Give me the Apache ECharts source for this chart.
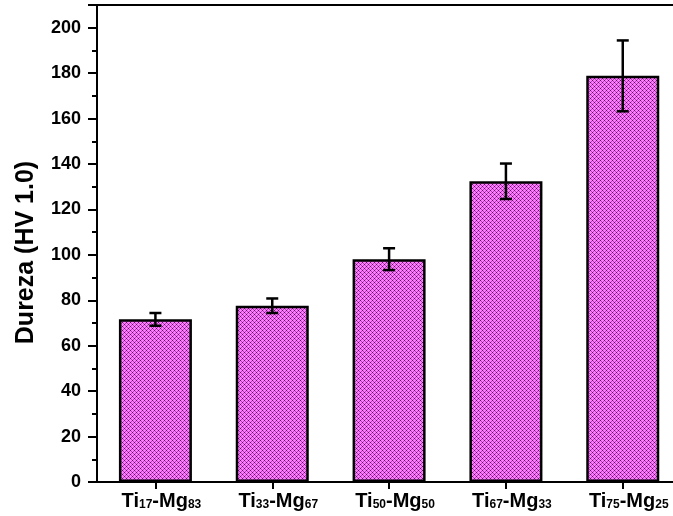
<!DOCTYPE html>
<html>
<head>
<meta charset="utf-8">
<script src="https://cdn.jsdelivr.net/npm/echarts@6/dist/echarts.min.js"></script>
<style>
  html, body { margin: 0; padding: 0; background: #fff; overflow: hidden; }
  #chart { width: 673px; height: 516px; }
</style>
</head>
<body>
<div id="chart"></div>
<script>
// Alloy compositions (Ti_x-Mg_y) and measured hardness
const categories = ['Ti17-Mg83', 'Ti33-Mg67', 'Ti50-Mg50', 'Ti67-Mg33', 'Ti75-Mg25'];
const hardness = [71.6, 77.6, 98.1, 132.4, 178.8];
const hardnessErr = [2.8, 3.2, 4.8, 7.8, 15.6];
const yTicks = [0, 20, 40, 60, 80, 100, 120, 140, 160, 180, 200];

const catIndex = categories.map(function (_, i) { return i; });

// Cross-hatched magenta fill: 4x4 tile with 1px diagonals both ways
function hatchPattern() {
  const s = 4;
  const c = document.createElement('canvas');
  c.width = s; c.height = s;
  const g = c.getContext('2d');
  g.fillStyle = '#ff7cff';
  g.fillRect(0, 0, s, s);
  for (let x = 0; x < s; x++) {
    for (let y = 0; y < s; y++) {
      const a = (x - y + s) % s === 0;
      const b = (x + y) % s === 0;
      if (a && b) { g.fillStyle = '#5a165c'; g.fillRect(x, y, 1, 1); }
      else if (a || b) { g.fillStyle = '#b43ebc'; g.fillRect(x, y, 1, 1); }
    }
  }
  return c;
}

const chart = echarts.init(document.getElementById('chart'), null, { renderer: 'canvas' });
const font = 'Liberation Sans, Arial, sans-serif';

chart.setOption({
  animation: false,
  backgroundColor: '#fff',
  grid: { left: 97, top: 5, right: 0, height: 477, outerBoundsMode: 'none', containLabel: false },
  xAxis: [
    {
      type: 'value',
      min: -0.5, max: 4.43,
      splitLine: { show: false },
      axisLine: { onZero: false, lineStyle: { color: '#000', width: 2 } },
      axisTick: { show: true, customValues: catIndex, length: 7, lineStyle: { color: '#000', width: 2 } },
      axisLabel: {
        customValues: catIndex,
        margin: 9,
        formatter: function (v) {
          const m = categories[Math.round(v)].match(/Ti(\d+)-Mg(\d+)/);
          return '{b|Ti}{s|' + m[1] + '}{b|-Mg}{s|' + m[2] + '}';
        },
        rich: {
          b: { fontFamily: font, fontWeight: 'bold', fontSize: 20, color: '#000' },
          s: { fontFamily: font, fontWeight: 'bold', fontSize: 12, color: '#000', padding: [7, 0, 0, 0] }
        },
        padding: [0, 0, 0, 12]
      }
    },
    {
      // top frame line
      type: 'value',
      position: 'top',
      min: -0.5, max: 4.43,
      splitLine: { show: false },
      axisLine: { show: true, onZero: false, lineStyle: { color: '#000', width: 2 } },
      axisTick: { show: false },
      axisLabel: { show: false }
    }
  ],
  yAxis: {
    type: 'value',
    min: 0, max: 210, interval: 20,
    name: 'Dureza (HV 1.0)',
    nameLocation: 'middle',
    nameGap: 58,
    nameTextStyle: { fontFamily: font, fontWeight: 'bold', fontSize: 25, color: '#000', padding: [0, 18, 0, 0] },
    splitLine: { show: false },
    axisLine: { show: true, onZero: false, lineStyle: { color: '#000', width: 2 } },
    axisTick: { show: true, length: 9, lineStyle: { color: '#000', width: 2 } },
    minorTick: { show: true, splitNumber: 2, length: 5, lineStyle: { color: '#000', width: 2 } },
    axisLabel: {
      margin: 16,
      fontFamily: font, fontWeight: 'bold', fontSize: 18, color: '#000',
      formatter: function (v) { return yTicks.indexOf(v) >= 0 ? String(v) : ''; }
    }
  },
  series: [
    {
      type: 'bar',
      data: hardness.map(function (v, i) { return [i, v]; }),
      barWidth: 73,
      itemStyle: {
        color: { image: hatchPattern(), repeat: 'repeat' },
        borderColor: '#000',
        borderWidth: 2.5
      }
    },
    {
      type: 'custom',
      data: hardness.map(function (v, i) { return [i, v - hardnessErr[i], v + hardnessErr[i]]; }),
      renderItem: function (params, api) {
        const lo = api.coord([api.value(0), api.value(1)]);
        const hi = api.coord([api.value(0), api.value(2)]);
        const hw = 6;
        const st = { stroke: '#000', lineWidth: 2.5 };
        return {
          type: 'group',
          children: [
            { type: 'line', shape: { x1: hi[0], y1: hi[1], x2: lo[0], y2: lo[1] }, style: st },
            { type: 'line', shape: { x1: hi[0] - hw, y1: hi[1], x2: hi[0] + hw, y2: hi[1] }, style: st },
            { type: 'line', shape: { x1: lo[0] - hw, y1: lo[1], x2: lo[0] + hw, y2: lo[1] }, style: st }
          ]
        };
      },
      z: 10
    }
  ]
});
</script>
</body>
</html>
